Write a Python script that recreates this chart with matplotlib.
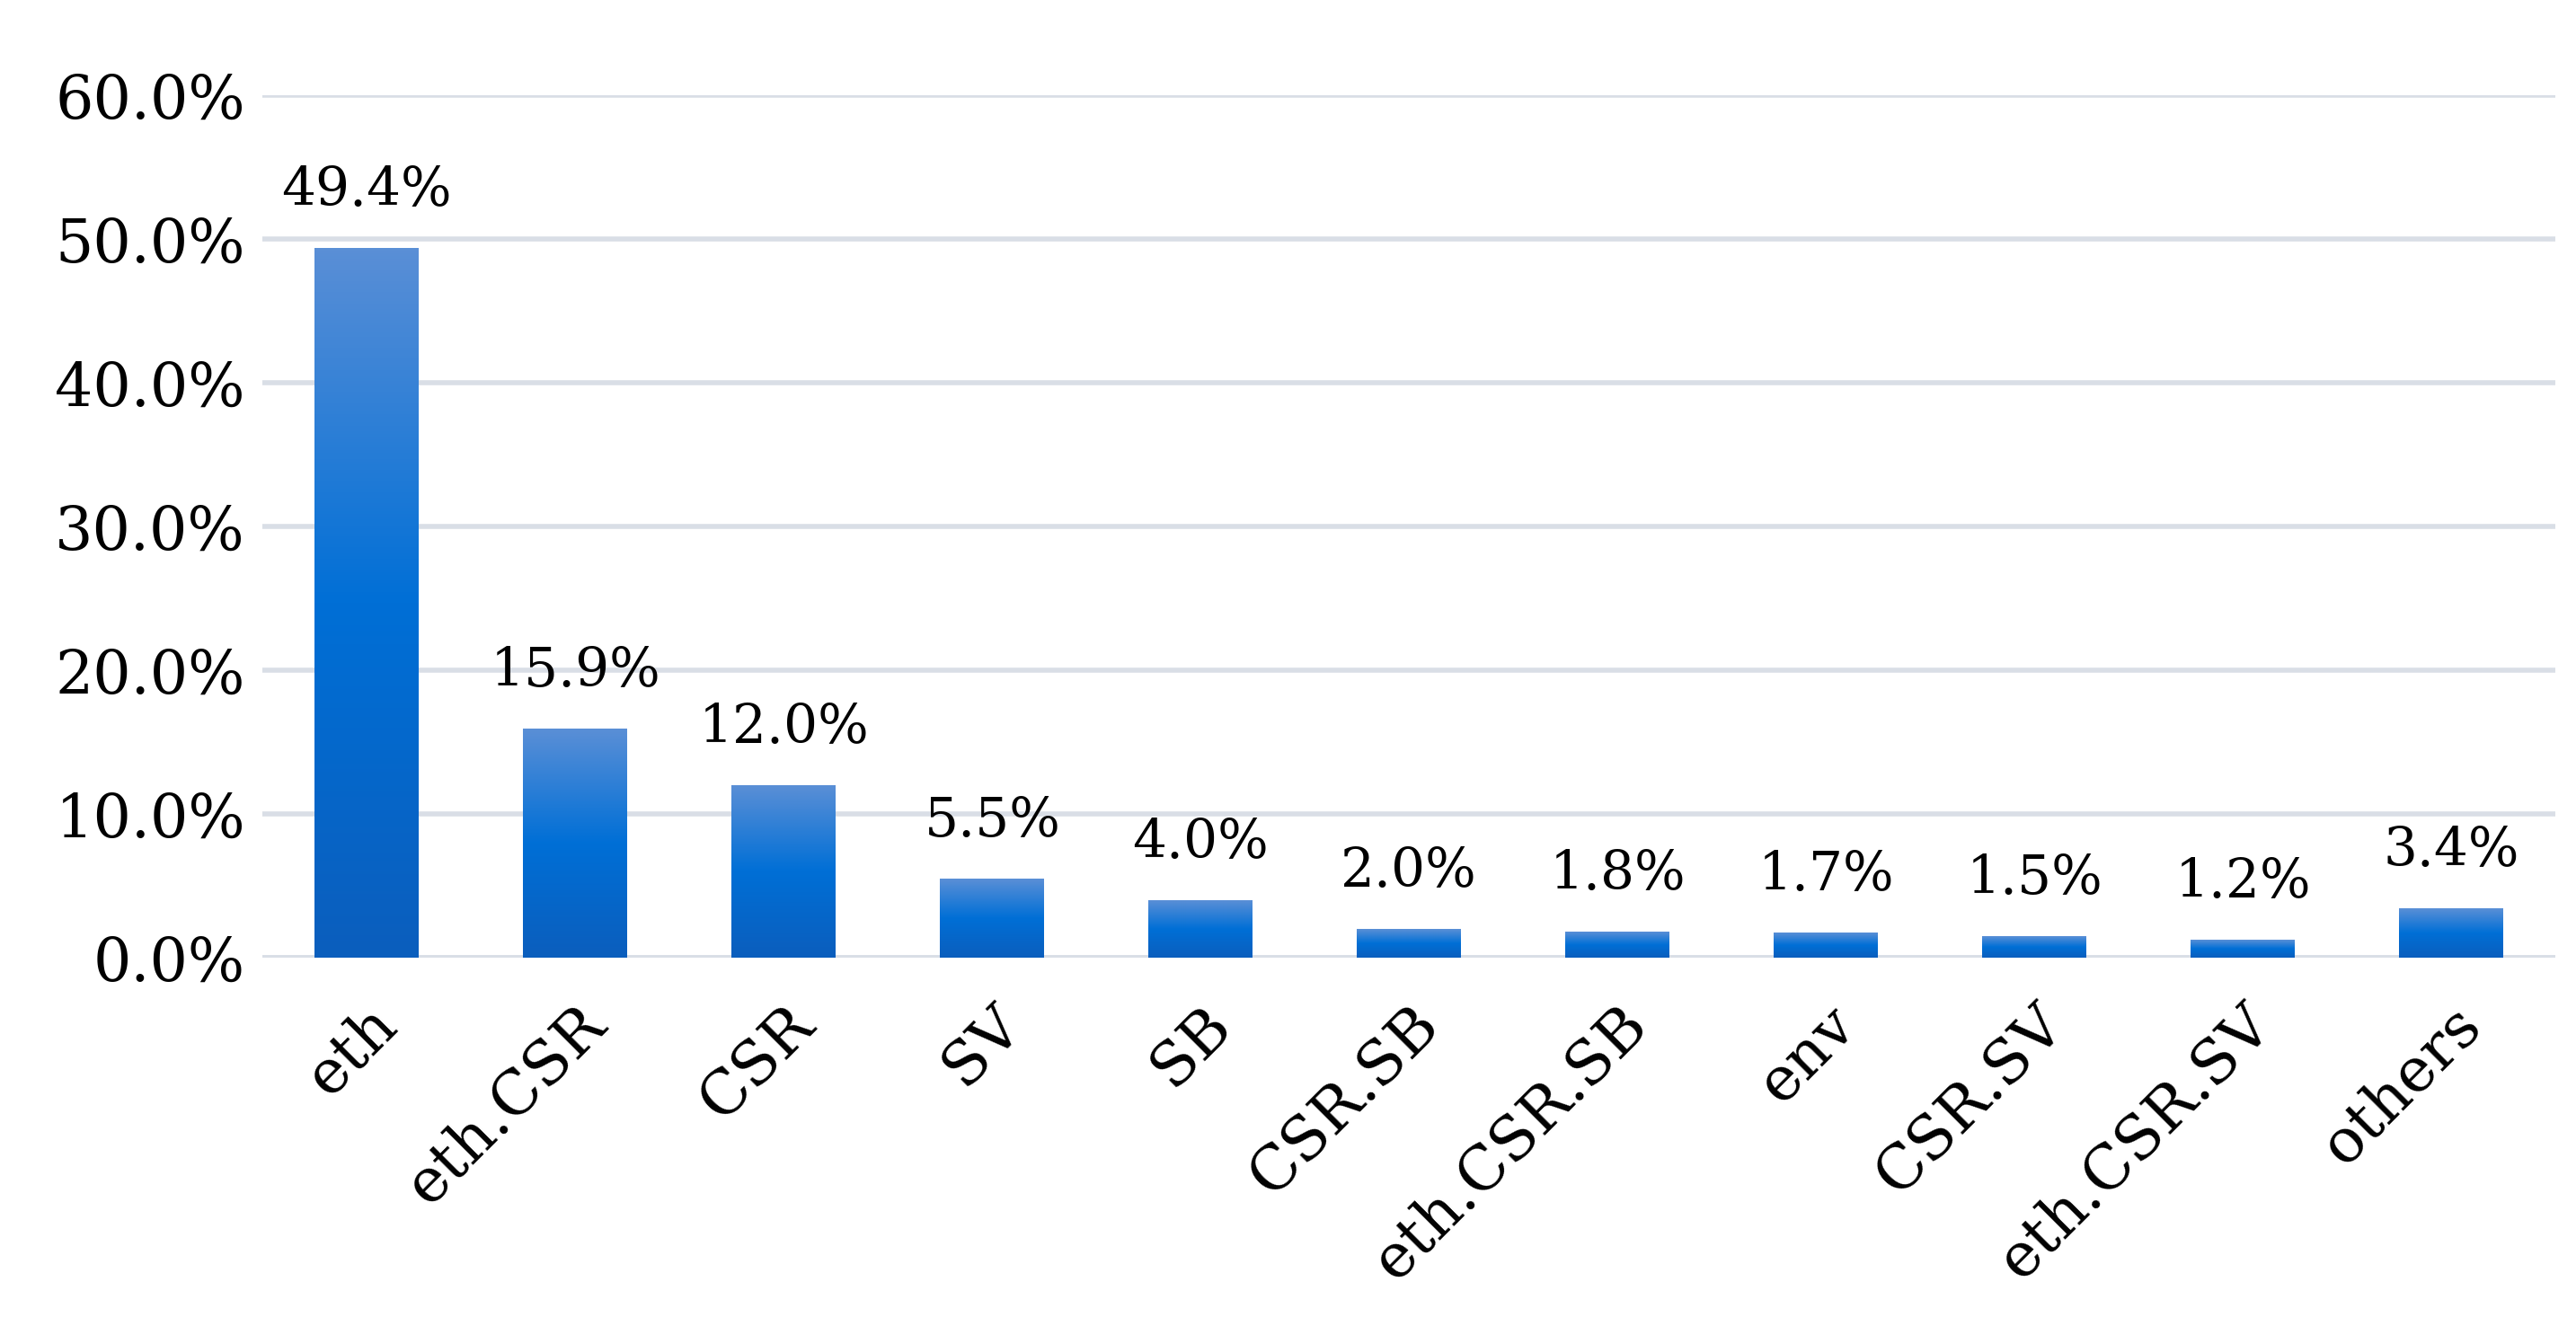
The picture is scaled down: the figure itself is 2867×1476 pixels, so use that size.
import numpy as np
import matplotlib.pyplot as plt
from matplotlib.colors import LinearSegmentedColormap

categories = ['eth', 'eth.CSR', 'CSR', 'SV', 'SB', 'CSR.SB', 'eth.CSR.SB',
              'env', 'CSR.SV', 'eth.CSR.SV', 'others']
values = [49.4, 15.9, 12.0, 5.5, 4.0, 2.0, 1.8, 1.7, 1.5, 1.2, 3.4]
yticks = [0, 10, 20, 30, 40, 50, 60]

plt.rcParams['font.family'] = ['DejaVu Serif']

fig = plt.figure(figsize=(28.67, 14.76), dpi=100)
ax = fig.add_axes([0.102, 0.278, 0.89, 0.65])

cmap = LinearSegmentedColormap.from_list('bar', ['#0b5ebd', '#006fd6', '#5a8fd6'])
grad = np.linspace(0, 1, 256).reshape(-1, 1)
width = 0.5

x = np.arange(len(categories))
for xi, v in zip(x, values):
    ax.imshow(grad, extent=(xi - width / 2, xi + width / 2, 0, v), origin='lower',
              cmap=cmap, aspect='auto', zorder=3)
    ax.text(xi, v + 2.2, f'{v:.1f}%', ha='center', va='bottom', fontsize=43, zorder=4)

ax.set_xlim(-0.5, len(categories) - 0.5)
ax.set_ylim(0, 60)
ax.set_yticks(yticks)
ax.set_yticklabels([f'{t:.1f}%' for t in yticks], fontsize=48)
ax.set_xticks(x)
ax.set_xticklabels(categories, fontsize=49, rotation=45, ha='right', rotation_mode='anchor')
ax.tick_params(length=0, pad=14)
ax.tick_params(axis='x', pad=30)
ax.grid(axis='y', color='#d9dee6', linewidth=4, zorder=0)
for s in ax.spines.values():
    s.set_visible(False)
ax.axhline(0, color='#d9dee6', linewidth=4, zorder=1)

fig.savefig('out.png', dpi=100)
